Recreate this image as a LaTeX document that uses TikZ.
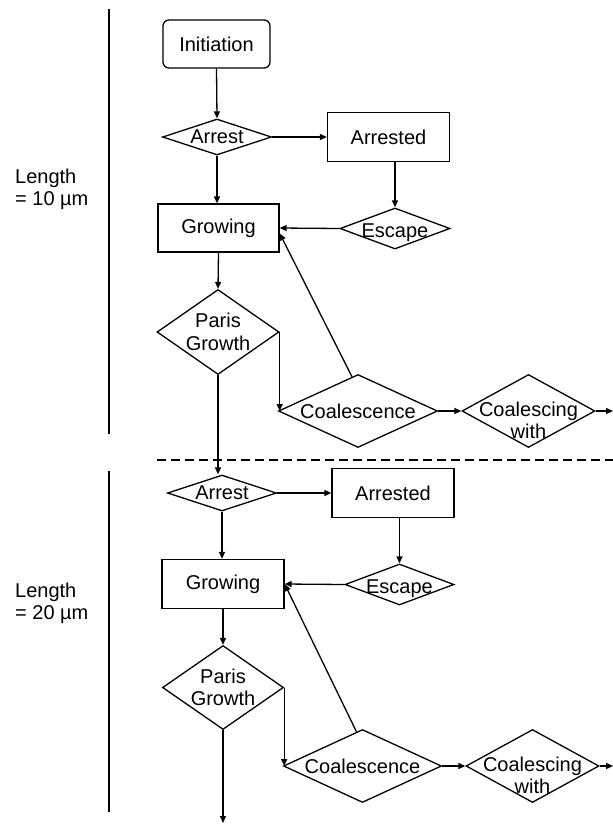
\documentclass[tikz,border=0pt]{standalone}
\usepackage{fontspec}
\setmainfont{Liberation Sans}
\usetikzlibrary{arrows.meta, shapes.geometric}

\begin{document}
\begin{tikzpicture}[
    x=1pt, y=-1pt,
    every node/.style={font=\fontsize{20}{22.5}\selectfont},
    box/.style={rectangle, draw, line width=1.3pt, minimum width=122pt, minimum height=49pt, inner sep=0pt},
    start/.style={box, rounded corners=6pt, minimum width=107pt, minimum height=48pt},
    decision/.style={diamond, draw, line width=1.3pt, align=center, inner xsep=-60pt, inner ysep=-25pt},
    lengthtext/.style={align=left, anchor=north west, inner sep=0pt},
    arrow/.style={-{Triangle[length=7pt, width=6pt]}, line width=1.3pt},
    bar/.style={line width=2.4pt}
]
\useasboundingbox (0,0) rectangle (613,825);

% first crack length
\node[start] (init) at (216.5,44) {Initiation};
\node[decision, minimum width=109pt, minimum height=36pt] (arrestA) at (217,137) {Arrest};
\node[box] (arrestedA) at (388.5,137) {Arrested};
\node[box, minimum width=121pt, minimum height=48pt] (growA) at (218.5,228) {Growing};
\node[decision, minimum width=110pt, minimum height=41pt] (escapeA) at (395,228.5) {\rule{0pt}{22pt}Escape};
\node[decision, minimum width=122pt, minimum height=85pt] (parisA) at (218,332) {Paris\\Growth};
\node[decision, minimum width=159pt, minimum height=73pt] (coalA) at (358,411) {Coalescence};
\node[decision, minimum width=133pt, minimum height=73pt] (withA) at (528.5,411) {\rule{0pt}{33pt}Coalescing\\with};
\coordinate (outA) at (613,411);

% second crack length
\node[decision, minimum width=109pt, minimum height=36pt] (arrestB) at (222,493) {Arrest};
\node[box] (arrestedB) at (393,493) {Arrested};
\node[box] (growB) at (223,584) {Growing};
\node[decision, minimum width=109pt, minimum height=41pt] (escapeB) at (399.5,584.5) {\rule{0pt}{22pt}Escape};
\node[decision, minimum width=121pt, minimum height=84pt] (parisB) at (223,687.5) {Paris\\Growth};
\node[decision, minimum width=158pt, minimum height=73pt] (coalB) at (362.5,766) {Coalescence};
\node[decision, minimum width=133pt, minimum height=73pt] (withB) at (532.5,766) {\rule{0pt}{33pt}Coalescing\\with};
\coordinate (outB) at (613,766);
\coordinate (endB) at (223,823);

% length labels and bars
\node[lengthtext] (lenA) at (15,168.7) {Length\\= 10 µm};
\node[lengthtext] (lenB) at (15,582.7) {Length\\= 20 µm};
\draw[bar] (109,9.3) -- (109,434);
\draw[bar] (109,471) -- (109,812);
\draw[line width=1.3pt, dash pattern=on 9pt off 5pt] (157,460) -- (613,460);

% connectors
\draw[arrow] (init.south) -- (arrestA.north);
\draw[arrow] (arrestA.east) -- (arrestedA.west);
\draw[arrow] (arrestA.south) -- (arrestA.south |- growA.north);
\draw[arrow] (escapeA.north |- arrestedA.south) -- (escapeA.north);
\draw[arrow] (escapeA.west) -- (growA.east);
\draw[arrow] (growA.south) -- (parisA.north);
\draw[arrow] (parisA.east) -- (parisA.east |- coalA.west);
\draw[arrow] (coalA.100) -- (growA.-5);
\draw[arrow] (coalA.east) -- (withA.west);
\draw[arrow] (withA.east) -- (outA);
\draw[arrow] (parisA.south) -- (parisA.south |- arrestB.north);

\draw[arrow] (arrestB.east) -- (arrestedB.west);
\draw[arrow] (arrestB.south) -- (arrestB.south |- growB.north);
\draw[arrow] (escapeB.north |- arrestedB.south) -- (escapeB.north);
\draw[arrow] (escapeB.west) -- (growB.east);
\draw[arrow] (growB.south) -- (parisB.north);
\draw[arrow] (parisB.east) -- (parisB.east |- coalB.west);
\draw[arrow] (coalB.100) -- (growB.east);
\draw[arrow] (coalB.east) -- (withB.west);
\draw[arrow] (withB.east) -- (outB);
\draw[arrow] (parisB.south) -- (endB);
\end{tikzpicture}
\end{document}
